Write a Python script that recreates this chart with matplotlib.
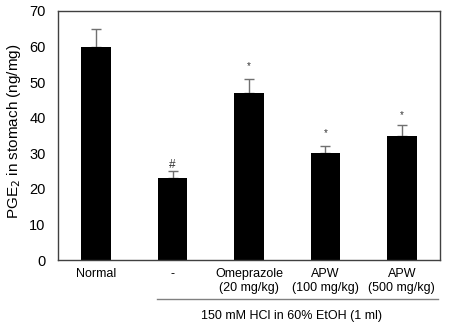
import matplotlib
matplotlib.use("Agg")
import matplotlib.pyplot as plt
import matplotlib.transforms as mtransforms

plt.rcParams['font.family'] = ['Liberation Sans', 'DejaVu Sans']

categories = ["Normal", "-", "Omeprazole\n(20 mg/kg)", "APW\n(100 mg/kg)", "APW\n(500 mg/kg)"]
values = [60, 23, 47, 30, 35]
errors = [5, 2, 4, 2, 3]
marks = ["", "#", "*", "*", "*"]
mark_y = [0, 26.7, 54.6, 35.8, 40.8]
yticks = [0, 10, 20, 30, 40, 50, 60, 70]
group_label = "150 mM HCl in 60% EtOH (1 ml)"

fig = plt.figure(figsize=(4.49, 3.24), dpi=100)
ax = fig.add_axes([58/449, 64/324, 382/449, 249/324])

x = list(range(len(categories)))
ax.bar(x, values, width=0.39, color='black', zorder=2)
ax.errorbar(x, values, yerr=[[0]*len(errors), errors], fmt='none',
            ecolor='#707070', elinewidth=1, capsize=3.5, capthick=1, zorder=1)
for xi, m, my in zip(x, marks, mark_y):
    if m:
        ax.text(xi, my, m, ha='center', va='center', fontsize=7 if m == '*' else 8.5,
                color='#333333')

ax.set_xlim(-0.5, 4.5)
ax.set_ylim(0, 70)
ax.set_yticks(yticks)
ax.set_xticks(x)
ax.set_xticklabels(categories, fontsize=9)
ax.tick_params(axis='y', length=0, pad=9, labelsize=10.5)
ax.tick_params(axis='x', length=0, pad=6)
ax.set_ylabel("PGE$_2$ in stomach (ng/mg)", fontsize=11, va='center')
ax.yaxis.set_label_coords(-0.115, 0.516)
for s in ax.spines.values():
    s.set_color('#404040')
    s.set_linewidth(1)

trans = mtransforms.blended_transform_factory(ax.transData, ax.transAxes)
ax.plot([0.8, 4.47], [-0.157, -0.157], transform=trans, color='#808080',
        linewidth=1, clip_on=False)
ax.text(2.55, -0.225, group_label, transform=trans, ha='center', va='center',
        fontsize=9)

fig.savefig("out.png", dpi=100)
